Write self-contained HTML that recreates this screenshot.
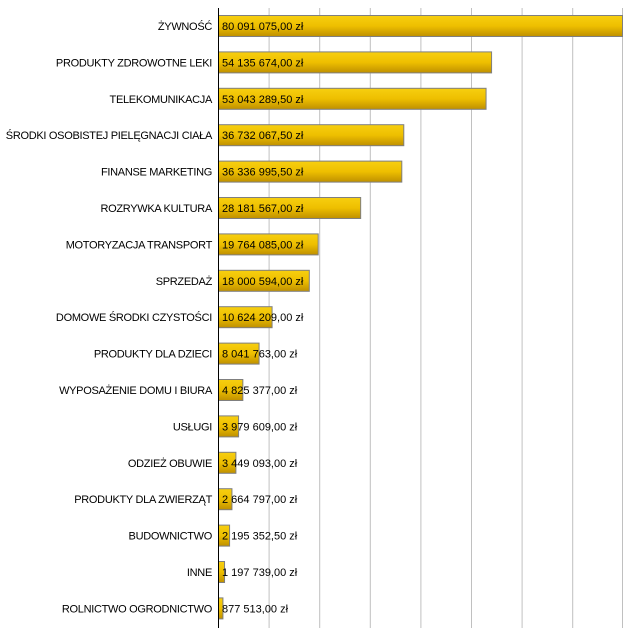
<!DOCTYPE html>
<html><head><meta charset="utf-8"><style>
body{margin:0;background:#fff}
svg text{font-family:"Liberation Sans",sans-serif;font-size:11px}
.l{letter-spacing:-0.3px}
</style></head><body>
<svg width="633" height="634" xmlns="http://www.w3.org/2000/svg">
<defs><linearGradient id="g" x1="0" y1="0" x2="0" y2="1">
<stop offset="0" stop-color="#f7cf10"/><stop offset="0.5" stop-color="#eebf00"/><stop offset="1" stop-color="#bf9000"/></linearGradient></defs>
<g stroke="#c0c0c0" stroke-width="1">
<line x1="269.1" y1="8" x2="269.1" y2="628"/><line x1="319.7" y1="8" x2="319.7" y2="628"/>
<line x1="370.3" y1="8" x2="370.3" y2="628"/><line x1="420.9" y1="8" x2="420.9" y2="628"/>
<line x1="471.5" y1="8" x2="471.5" y2="628"/><line x1="522.1" y1="8" x2="522.1" y2="628"/>
<line x1="572.7" y1="8" x2="572.7" y2="628"/><line x1="622.5" y1="8" x2="622.5" y2="628"/>
</g>
<g id="bars" fill="url(#g)" stroke="#7f7f7f" stroke-width="1"></g>
<g id="txt"></g>
<line x1="218.5" y1="8" x2="218.5" y2="628" stroke="#000"/>
<script>
var d=[["ŻYWNOŚĆ",80091075,"80 091 075,00 zł"],["PRODUKTY ZDROWOTNE LEKI",54135674,"54 135 674,00 zł"],["TELEKOMUNIKACJA",53043289.5,"53 043 289,50 zł"],["ŚRODKI OSOBISTEJ PIELĘGNACJI CIAŁA",36732067.5,"36 732 067,50 zł"],["FINANSE MARKETING",36336995.5,"36 336 995,50 zł"],["ROZRYWKA KULTURA",28181567,"28 181 567,00 zł"],["MOTORYZACJA TRANSPORT",19764085,"19 764 085,00 zł"],["SPRZEDAŻ",18000594,"18 000 594,00 zł"],["DOMOWE ŚRODKI CZYSTOŚCI",10624209,"10 624 209,00 zł"],["PRODUKTY DLA DZIECI",8041763,"8 041 763,00 zł"],["WYPOSAŻENIE DOMU I BIURA",4825377,"4 825 377,00 zł"],["USŁUGI",3979609,"3 979 609,00 zł"],["ODZIEŻ OBUWIE",3449093,"3 449 093,00 zł"],["PRODUKTY DLA ZWIERZĄT",2664797,"2 664 797,00 zł"],["BUDOWNICTWO",2195352.5,"2 195 352,50 zł"],["INNE",1197739,"1 197 739,00 zł"],["ROLNICTWO OGRODNICTWO",877513,"877 513,00 zł"]];
var ns="http://www.w3.org/2000/svg",b=document.getElementById("bars"),t=document.getElementById("txt");
d.forEach(function(r,i){var y=15+i*36.4;var w=r[1]/80091075*404;
var e=document.createElementNS(ns,"rect");e.setAttribute("x",218.5);e.setAttribute("y",y+0.5);e.setAttribute("width",w);e.setAttribute("height",21);b.appendChild(e);
var l=document.createElementNS(ns,"text");l.setAttribute("x",212);l.setAttribute("y",y+15);l.setAttribute("text-anchor","end");l.setAttribute("class","l");
l.textContent=r[0];t.appendChild(l);
var v=document.createElementNS(ns,"text");v.setAttribute("x",222);v.setAttribute("y",y+15);v.textContent=r[2];t.appendChild(v);});
</script>
</svg>
</body></html>
